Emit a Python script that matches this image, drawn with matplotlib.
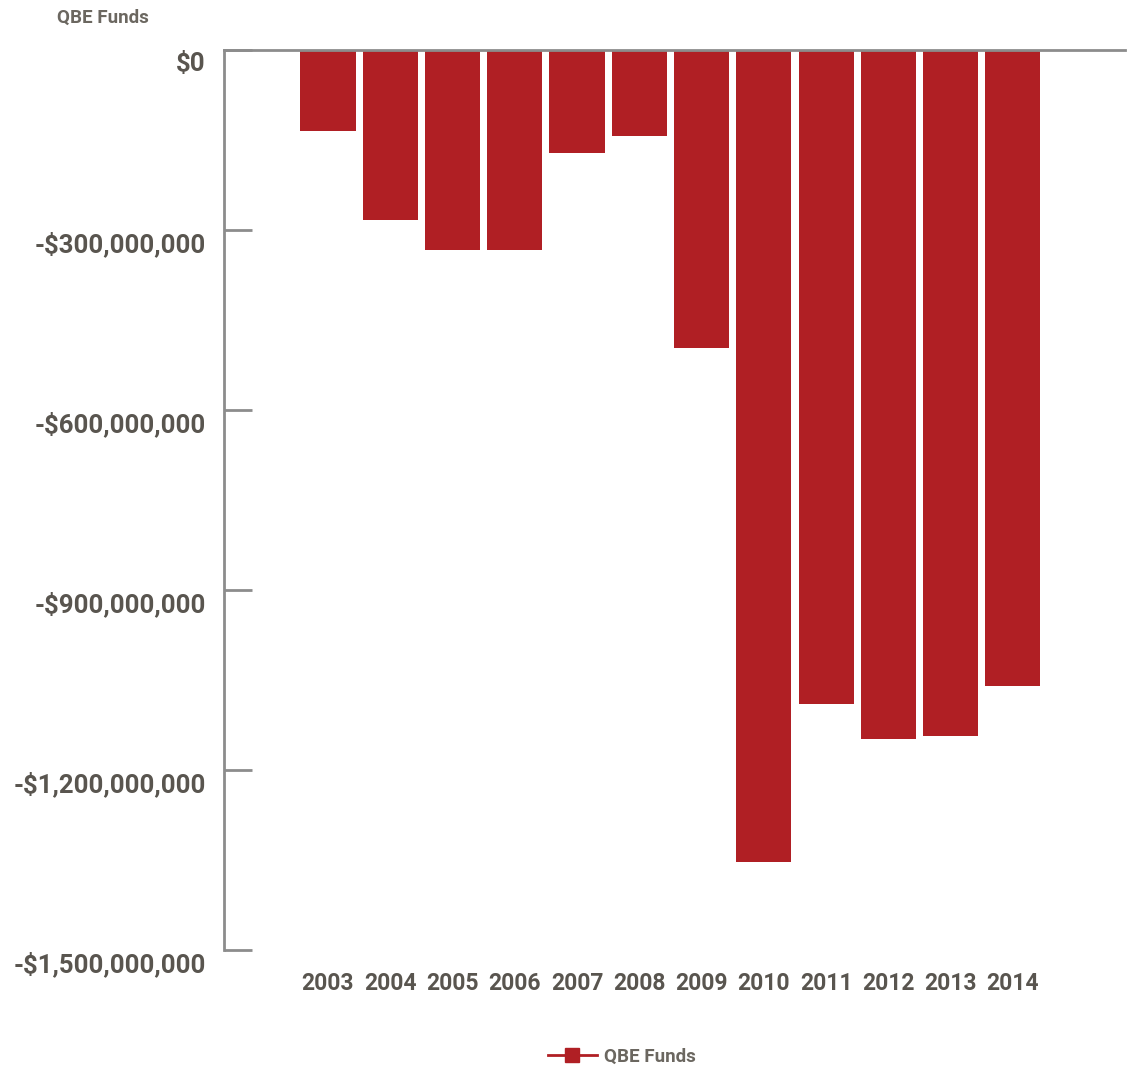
import matplotlib
matplotlib.use("Agg")
import matplotlib.pyplot as plt
from matplotlib.transforms import ScaledTranslation
from matplotlib.lines import Line2D
from matplotlib import font_manager as fm

years = ["2003", "2004", "2005", "2006", "2007", "2008", "2009", "2010", "2011", "2012", "2013", "2014"]
funds = [-135e6, -284e6, -334e6, -334e6, -171e6, -143e6, -496e6, -1354e6, -1090e6, -1148e6, -1143e6, -1060e6]
ytick_vals = [0, -300e6, -600e6, -900e6, -1200e6, -1500e6]
ytick_labels = ["$0", "-$300,000,000", "-$600,000,000", "-$900,000,000", "-$1,200,000,000", "-$1,500,000,000"]

names = {f.name for f in fm.fontManager.ttflist}
fam = ["Liberation Sans Narrow", "DejaVu Sans"] if "Liberation Sans Narrow" in names else ["Roboto", "DejaVu Sans"]
plt.rcParams['font.family'] = fam

TXT = "#59554f"
BAR = "#b01f24"
AX = "#8c8c8c"

fig = plt.figure(figsize=(11.38, 10.72), dpi=100)
ax = fig.add_axes([224/1138, 1-950/1072, (1125-224)/1138, 900/1072])

x = list(range(len(years)))
ax.bar(x, funds, width=0.885, color=BAR, zorder=2)
ax.set_xlim(-1.67, 12.8)
ax.set_ylim(-1.5e9, 0)

for s in ["right", "bottom"]:
    ax.spines[s].set_visible(False)
for s in ["left", "top"]:
    ax.spines[s].set_color(AX)
    ax.spines[s].set_linewidth(2)
ax.spines["top"].set_zorder(3)

ax.set_yticks(ytick_vals)
ax.set_yticklabels(ytick_labels)
ax.tick_params(axis="y", direction="in", length=20, width=2, color=AX, pad=13,
               labelsize=18.5, labelcolor=TXT)
for lab in ax.get_yticklabels():
    lab.set_fontweight("bold")
    lab.set_transform(lab.get_transform() + ScaledTranslation(0, -0.12, fig.dpi_scale_trans))

ax.set_xticks(x)
ax.set_xticklabels(years)
ax.tick_params(axis="x", length=0, pad=16, labelsize=16.5, labelcolor=TXT)
for lab in ax.get_xticklabels():
    lab.set_fontweight("bold")

fig.text(57/1138, 1-18/1072, "QBE Funds", fontsize=13.5, fontweight="bold", color="#6b6760",
         ha="left", va="center")

handle = Line2D([0], [0], color=BAR, marker="s", markersize=10, linewidth=2)
fig.legend([handle], ["QBE Funds"], loc="center", bbox_to_anchor=(622/1138, 1-1057/1072),
           frameon=False, labelcolor="#6b6760", handlelength=2.6, handletextpad=0.4,
           prop={"weight": "bold", "size": 13.5})

fig.savefig("out.png", dpi=100, facecolor="white")
